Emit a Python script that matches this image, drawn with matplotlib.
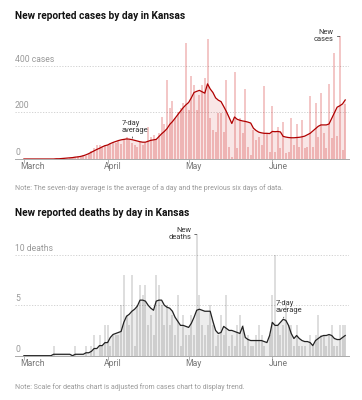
import matplotlib
matplotlib.use("Agg")
import matplotlib.pyplot as plt
import matplotlib.dates as mdates
import pandas as pd

plt.rcParams['font.family'] = ['Roboto', 'DejaVu Sans']

dates = pd.date_range('2020-03-01', '2020-06-28', freq='D')
months = pd.to_datetime(['2020-03-01', '2020-04-01', '2020-05-01', '2020-06-01'])
month_labels = ['March', 'April', 'May', 'June']

# New cases per day
cases_mar = [0, 0, 0, 0, 0, 0, 1, 0, 0, 0, 0, 1,
             0, 2, 1, 3, 2, 4, 3, 8,
             11, 10, 18, 12, 20, 36, 45, 59, 58, 50, 62]
cases_apr = [62, 70, 72, 68, 76, 64, 84, 95, 80, 70,
             62, 52, 74, 60, 70, 135, 95, 103, 85, 110,
             180, 150, 339, 218, 250, 174, 203, 218, 240, 496]
cases_may = [210, 356, 317, 210, 274, 317, 346, 513, 174, 124,
             117, 197, 197, 117, 339, 53, 10, 374, 46, 174,
             110, 299, 53, 17, 124, 81, 96, 60, 314, 110, 31]
cases_jun = [225, 30, 139, 46, 160, 24, 31, 174, 60, 150,
             53, 167, 46, 53, 270, 53, 240, 96, 282, 110,
             46, 320, 90, 456, 100, 525, 40, 235]

# 7-day average of cases
cases_avg_mar = [0] * 12 + [1, 1, 2, 3, 4, 5, 6, 8, 9, 11, 14, 18, 23, 29, 35, 41, 46, 52, 57]
cases_avg_apr = [60, 66, 71, 75, 79, 82, 84, 86, 85, 83,
                 80, 77, 74, 72, 72, 76, 80, 82, 84, 96,
                 108, 118, 130, 148, 160, 175, 190, 205, 220, 232]
cases_avg_may = [242, 262, 285, 290, 294, 288, 282, 322, 300, 285,
                 262, 252, 246, 225, 203, 178, 152, 180, 170, 166,
                 163, 161, 158, 154, 132, 122, 115, 112, 110, 110, 109]
cases_avg_jun = [118, 117, 118, 116, 97, 94, 92, 91, 91, 92,
                 93, 95, 98, 104, 110, 120, 130, 140, 146, 146,
                 146, 150, 174, 198, 222, 228, 236, 253]

# New deaths per day
deaths_mar = [0] * 11 + [1] + [0] * 7 + [1, 0, 0, 0, 1, 0, 1, 2, 0, 2, 1, 3]
deaths_apr = [3, 1, 2, 2, 2, 5, 8, 4, 3, 8,
              1, 5, 7, 6, 7, 3, 4, 2, 8, 7,
              5, 3, 5, 3, 4, 2, 6, 1, 4, 2]
deaths_may = [2, 4, 2, 12, 6, 3, 2, 3, 5, 3,
              1, 2, 4, 2, 6, 1, 2, 1, 3, 4,
              3, 1, 2, 1, 1, 2, 3, 2, 1, 0, 2]
deaths_jun = [6, 10, 3, 2, 3, 5, 3, 3, 1, 3,
              1, 1, 1, 0, 2, 1, 2, 4, 2, 2,
              1, 2, 3, 1, 1, 3, 3, 3]

# 7-day average of deaths
deaths_avg_mar = [0] * 11 + [0.14] * 7 + [0, 0.14, 0.14, 0.14, 0.14,
                                           0.29, 0.29, 0.43, 0.71, 0.71, 1.0, 1.0, 1.29]
deaths_avg_apr = [1.3, 1.8, 2.1, 2.2, 2.3, 2.4, 3.3, 3.9, 4.1, 4.4,
                  4.6, 4.9, 5.5, 5.5, 5.4, 5.0, 4.7, 4.5, 5.4, 5.5,
                  5.5, 5.0, 4.8, 4.7, 4.4, 3.8, 3.4, 3.0, 3.0, 2.9]
deaths_avg_may = [2.8, 3.2, 3.8, 4.5, 4.6, 4.5, 4.4, 4.4, 4.4, 3.4,
                  2.5, 2.2, 2.3, 2.9, 2.7, 2.5, 2.5, 2.4, 2.3, 2.2,
                  2.9, 1.8, 1.6, 1.5, 1.5, 1.5, 1.5, 1.5, 1.4, 1.3, 2.0]
deaths_avg_jun = [3.3, 3.0, 3.0, 3.3, 3.6, 3.5, 3.0, 2.2, 1.7, 2.0,
                  1.7, 1.5, 1.4, 1.4, 1.3, 1.0, 1.5, 1.7, 1.9, 2.0,
                  2.0, 2.1, 2.0, 1.7, 1.6, 1.6, 1.8, 2.0]

cases = cases_mar + cases_apr + cases_may + cases_jun
cases_avg = cases_avg_mar + cases_avg_apr + cases_avg_may + cases_avg_jun
deaths = deaths_mar + deaths_apr + deaths_may + deaths_jun
deaths_avg = deaths_avg_mar + deaths_avg_apr + deaths_avg_may + deaths_avg_jun

W, H = 362, 400
fig = plt.figure(figsize=(W / 100, H / 100), dpi=100)
fig.patch.set_facecolor('white')

GRAY = '#999999'
TXT = '#333333'
TITLE_FS = 7.3
NOTE_FS = 5.0
TICK_FS = 6.2
ANN_FS = 5.4


def panel(bottom_px, top_px, values, avg, color, line_color, bar_alpha, fill_alpha,
          ymax, grid_vals, grid_labels):
    ax = fig.add_axes([15 / W, (H - bottom_px) / H, (349 - 15) / W, (bottom_px - top_px) / H])
    ax.fill_between(dates, avg, color=color, alpha=fill_alpha, linewidth=0, zorder=1)
    ax.bar(dates, values, width=0.75, color=color, alpha=bar_alpha, linewidth=0, zorder=2)
    ax.plot(dates, avg, color=line_color, linewidth=0.9, zorder=4)
    ax.set_xlim(dates[0] - pd.Timedelta(days=3.3), dates[-1] + pd.Timedelta(days=1.4))
    ax.set_ylim(0, ymax)
    for v in grid_vals:
        ax.axhline(v, color='#cccccc', linewidth=0.6, linestyle=(0, (1.5, 1.8)), zorder=0)
    for v, lab in zip([0] + grid_vals, grid_labels):
        ax.annotate(lab, xy=(0, v), xycoords=('axes fraction', 'data'),
                    xytext=(0, 4.6), textcoords='offset points',
                    ha='left', va='center', fontsize=TICK_FS, color=GRAY)
    for s in ['top', 'left', 'right']:
        ax.spines[s].set_visible(False)
    ax.spines['bottom'].set_color('#aaaaaa')
    ax.spines['bottom'].set_linewidth(0.7)
    ax.set_yticks([])
    ax.set_xticks(months)
    ax.tick_params(axis='x', length=3, width=0.6, color='#aaaaaa', labelbottom=False)
    for m, lab in zip(months, month_labels):
        ax.annotate(lab, xy=(mdates.date2num(m), 0), xycoords=('data', 'axes fraction'),
                    xytext=(-2.4, -5.4), textcoords='offset points',
                    ha='left', va='center', fontsize=TICK_FS, color='#777777')
    return ax


# cases panel
ax1 = panel(159, 28.3, cases, cases_avg, '#cc1111', '#b00000', 0.23, 0.10,
            560, [200, 400], ['0', '200', '400 cases'])
fig.text(15 / W, 1 - 16 / H, 'New reported cases by day in Kansas', fontsize=TITLE_FS,
         fontweight='bold', color='#121212', va='center', ha='left')
fig.text(15 / W, 1 - 188 / H,
         'Note: The seven-day average is the average of a day and the previous six days of data.',
         fontsize=NOTE_FS, color=GRAY, va='center', ha='left')

i = list(dates).index(pd.Timestamp('2020-04-10'))
ax1.annotate('7-day\naverage', xy=(dates[i], cases_avg[i]), xytext=(-7.2, 4),
             textcoords='offset points', ha='left', va='bottom', fontsize=ANN_FS,
             color=TXT, linespacing=1.0,
             arrowprops=dict(arrowstyle='-', color=TXT, lw=0.5, relpos=(0.43, 0),
                             shrinkA=0, shrinkB=1))
i = list(dates).index(pd.Timestamp('2020-06-26'))
ax1.annotate('New\ncases', xy=(dates[i], cases[i]), xytext=(-4.3, 0),
             textcoords='offset points', ha='right', va='center', fontsize=ANN_FS,
             color=TXT, linespacing=1.0, multialignment='right',
             arrowprops=dict(arrowstyle='-', color=TXT, lw=0.5, relpos=(1, 0.5),
                             shrinkA=0.5, shrinkB=0))

# deaths panel
ax2 = panel(355.7, 228.4, deaths, deaths_avg, '#000000', '#222222', 0.13, 0.07,
            12.6, [5, 10], ['0', '5', '10 deaths'])
fig.text(15 / W, 1 - 213 / H, 'New reported deaths by day in Kansas', fontsize=TITLE_FS,
         fontweight='bold', color='#121212', va='center', ha='left')
fig.text(15 / W, 1 - 386.7 / H,
         'Note: Scale for deaths chart is adjusted from cases chart to display trend.',
         fontsize=NOTE_FS, color=GRAY, va='center', ha='left')

i = list(dates).index(pd.Timestamp('2020-05-04'))
ax2.annotate('New\ndeaths', xy=(dates[i], deaths[i]), xytext=(-4.0, 0),
             textcoords='offset points', ha='right', va='center', fontsize=ANN_FS,
             color=TXT, linespacing=1.0, multialignment='right',
             arrowprops=dict(arrowstyle='-', color=TXT, lw=0.5, relpos=(1, 0.5),
                             shrinkA=0.5, shrinkB=0))
i = list(dates).index(pd.Timestamp('2020-06-05'))
ax2.annotate('7-day\naverage', xy=(dates[i], deaths_avg[i]), xytext=(-5.5, 3.6),
             textcoords='offset points', ha='left', va='bottom', fontsize=ANN_FS,
             color=TXT, linespacing=1.0,
             arrowprops=dict(arrowstyle='-', color=TXT, lw=0.5, relpos=(0.35, 0),
                             shrinkA=0, shrinkB=1))

fig.savefig('out.png', dpi=100, facecolor='white')
